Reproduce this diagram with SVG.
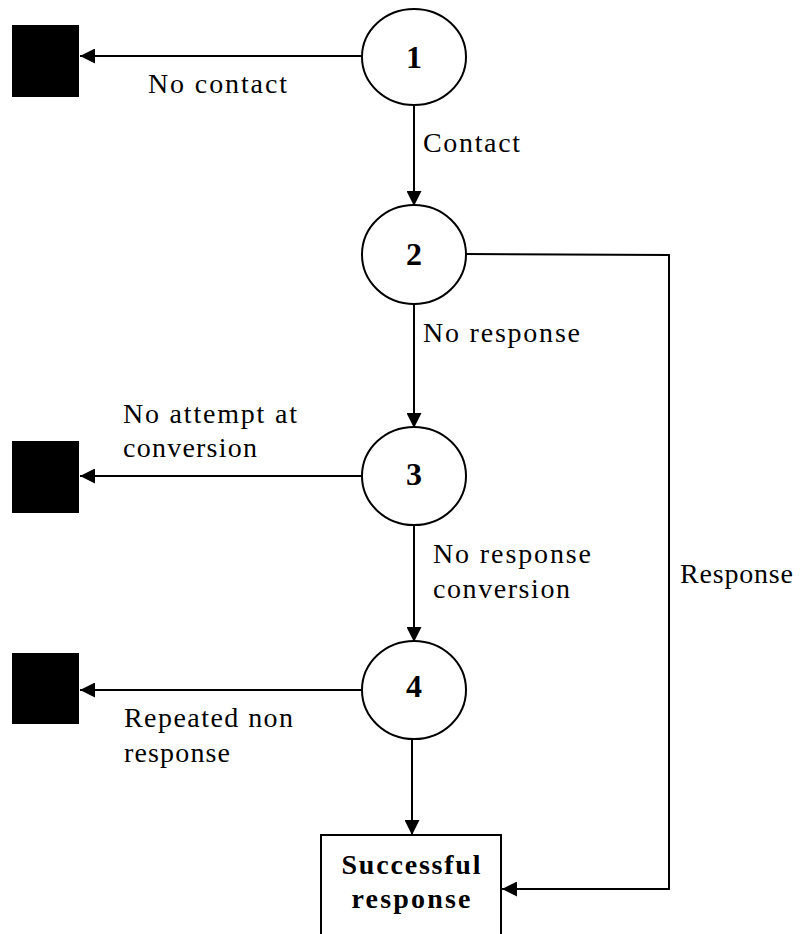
<svg xmlns="http://www.w3.org/2000/svg" width="801" height="934" viewBox="0 0 801 934">
<style>
.node{fill:#fff;stroke:#000;stroke-width:2}
.sink{fill:#000;stroke:none}
.edge{fill:none;stroke:#000;stroke-width:2}
.lbl{font-family:"Liberation Serif",serif;font-size:28px;fill:#000}
.num{font-family:"Liberation Serif",serif;font-size:32px;font-weight:bold;fill:#000;text-anchor:middle}
.bold{font-family:"Liberation Serif",serif;font-size:28px;font-weight:bold;fill:#000;text-anchor:middle}
</style>
<defs>
<marker id="arr" markerUnits="userSpaceOnUse" markerWidth="15" markerHeight="15" refX="15" refY="7.5" orient="auto">
<path d="M0,0 L15,7.5 L0,15 Z" fill="#000"/>
</marker>
</defs>
<rect width="801" height="934" fill="#fff"/>
<g id="connectors">
<line class="edge" x1="362" y1="56" x2="80" y2="56" marker-end="url(#arr)"/>
<line class="edge" x1="414" y1="105" x2="414" y2="206" marker-end="url(#arr)"/>
<line class="edge" x1="414" y1="304" x2="414" y2="428" marker-end="url(#arr)"/>
<line class="edge" x1="362" y1="476" x2="80" y2="476" marker-end="url(#arr)"/>
<line class="edge" x1="414" y1="525" x2="414" y2="642" marker-end="url(#arr)"/>
<line class="edge" x1="362" y1="690" x2="80" y2="690" marker-end="url(#arr)"/>
<line class="edge" x1="412" y1="739" x2="412" y2="835" marker-end="url(#arr)"/>
<polyline class="edge" points="466,254 669,255 669,889 502,889" marker-end="url(#arr)"/>
<text class="lbl" x="148" y="93" textLength="139">No contact</text>
<text class="lbl" x="423" y="152" textLength="97">Contact</text>
<text class="lbl" x="423" y="342" textLength="157">No response</text>
<text class="lbl" x="123" y="423" textLength="174">No attempt at</text>
<text class="lbl" x="123" y="457" textLength="134">conversion</text>
<text class="lbl" x="433" y="563" textLength="158">No response</text>
<text class="lbl" x="433" y="598" textLength="137">conversion</text>
<text class="lbl" x="680" y="583" textLength="113">Response</text>
<text class="lbl" x="124" y="727" textLength="169">Repeated non</text>
<text class="lbl" x="124" y="762" textLength="106">response</text>
</g>
<g id="n1"><ellipse class="node" cx="414" cy="57" rx="52" ry="48"/><text class="num" x="414" y="68">1</text></g>
<g id="n2"><ellipse class="node" cx="414" cy="254.5" rx="52" ry="49.5"/><text class="num" x="414" y="265">2</text></g>
<g id="n3"><ellipse class="node" cx="414" cy="476" rx="52" ry="49"/><text class="num" x="414" y="485">3</text></g>
<g id="n4"><ellipse class="node" cx="414" cy="690" rx="52" ry="49"/><text class="num" x="414" y="697">4</text></g>
<g id="s1"><rect class="sink" x="12" y="25" width="67" height="72"/></g>
<g id="s3"><rect class="sink" x="12" y="441" width="67" height="72"/></g>
<g id="s4"><rect class="sink" x="12" y="653" width="67" height="71"/></g>
<g id="success"><rect class="node" x="321" y="835" width="180" height="110"/>
<text class="bold" x="411" y="874" textLength="139">Successful</text>
<text class="bold" x="411" y="908" textLength="119">response</text></g>
</svg>
